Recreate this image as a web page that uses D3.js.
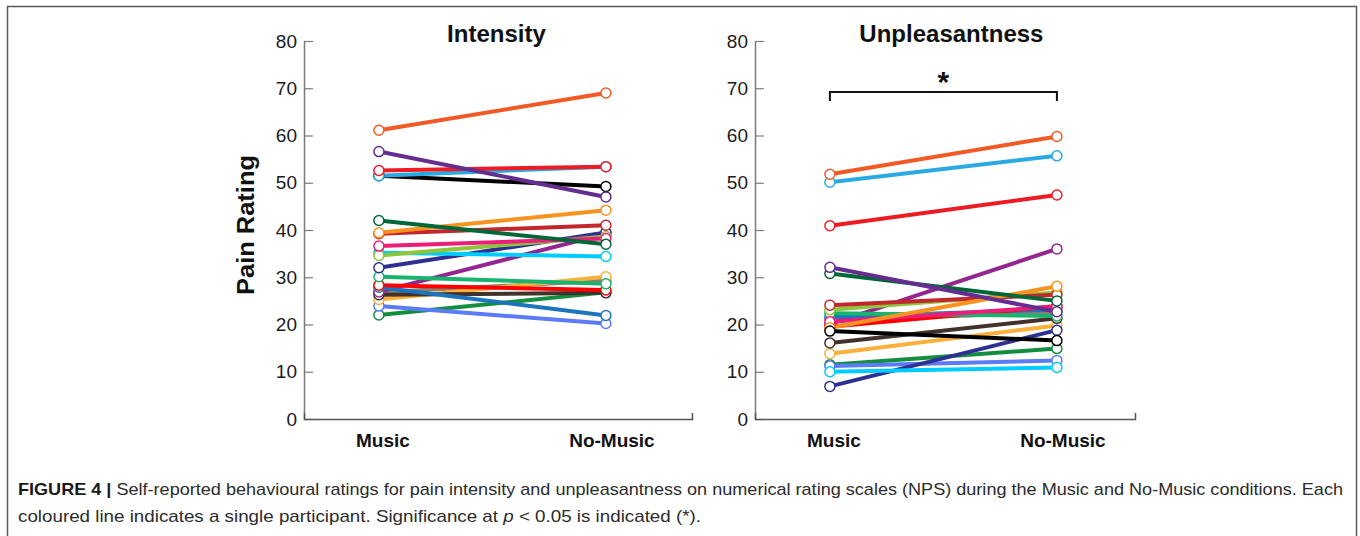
<!DOCTYPE html>
<html>
<head>
<meta charset="utf-8">
<script src="https://cdn.jsdelivr.net/npm/d3@7"></script>
<style>
  html, body { margin: 0; padding: 0; background: #fff; }
  svg { display: block; }
  text { font-family: "Liberation Sans", Arial, Helvetica, sans-serif; }
</style>
</head>
<body>
<svg id="chart" width="1360" height="536"></svg>
<script>
// ---------------- DATA ----------------
const conditions = ["Music", "No-Music"];
const yTicks = [0, 10, 20, 30, 40, 50, 60, 70, 80];
const panelTitles = ["Intensity", "Unpleasantness"];
const yLabel = "Pain Rating";

// one colour per participant
const participantColors = [
  "#f15a24", "#662d91", "#ed1c24", "#29abe2", "#000000",
  "#006837", "#f7931e", "#c1272d", "#ed1e79", "#8cc63f",
  "#00ccff", "#2e3192", "#1bb46e", "#ff0000", "#1c75bc",
  "#93278f", "#42322b", "#fbb03b", "#5b7bf7", "#138e3e",
  "#8c7f72"
];

const intensityMusic   = [61.1, 56.6, 52.6, 51.5, 51.5, 42.0, 39.4, 39.2, 36.6, 34.6, 35.2, 32.0, 30.1, 28.3, 27.9, 26.9, 26.3, 25.3, 23.9, 22.0, 26.8];
const intensityNoMusic = [69.0, 47.0, 53.4, 53.4, 49.2, 37.0, 44.2, 41.0, 38.2, 38.6, 34.4, 39.5, 28.6, 27.3, 21.9, 39.2, 26.7, 30.1, 20.2, 26.8, 29.3];

const unpleasMusic     = [51.8, 32.1, 40.9, 50.1, 18.6, 30.8, 19.3, 24.1, 20.6, 23.1, 10.0, 6.9, 22.4, 19.5, 21.6, 20.1, 16.1, 13.8, 11.2, 11.5, 21.0];
const unpleasNoMusic   = [59.8, 22.7, 47.4, 55.7, 16.6, 25.0, 28.1, 26.3, 23.8, 26.8, 10.9, 18.8, 21.8, 23.9, 23.2, 36.0, 21.3, 19.8, 12.4, 14.9, 22.5];

// significance annotation on the Unpleasantness panel (rating level of bracket)
const sigLevel = 69.2;
const sigDrop = 1.9;
const sigMark = "*";

const captionBold = "FIGURE 4 | ";
const captionLine1 = "Self-reported behavioural ratings for pain intensity and unpleasantness on numerical rating scales (NPS) during the Music and No-Music conditions. Each";
const captionLine2a = "coloured line indicates a single participant. Significance at ";
const captionLine2p = "p";
const captionLine2b = " < 0.05 is indicated (*).";

// ---------------- DRAW ----------------
const svg = d3.select("#chart");

// outer figure frame (open at bottom)
svg.append("path")
  .attr("d", "M7.5,540 V6.5 H1356.5 V540")
  .attr("fill", "none")
  .attr("stroke", "#5a5a5a")
  .attr("stroke-width", 1.5);

const y = d3.scaleLinear().domain([0, 80]).range([419, 41]);

const panels = [
  { title: panelTitles[0], music: intensityMusic, noMusic: intensityNoMusic, x0: 304, x1: 692, sig: false },
  { title: panelTitles[1], music: unpleasMusic,   noMusic: unpleasNoMusic,   x0: 755, x1: 1135, sig: true }
];

panels.forEach((p, pi) => {
  const g = svg.append("g");
  // ~227px between the two conditions, first condition ~75px from the y axis
  const xs = d3.scaleLinear().domain([-0.33, (p.x1 - p.x0) / 227 - 0.33]).range([p.x0, p.x1]);

  // y axis (ticks pointing inward)
  const yAxis = d3.axisLeft(y).tickValues(yTicks).tickSizeInner(-9).tickSizeOuter(0).tickPadding(7);
  const ya = g.append("g").attr("transform", `translate(${p.x0},0)`).call(yAxis);
  ya.select(".domain").attr("stroke", "#7a7a7a").attr("stroke-width", 1.5);
  ya.selectAll(".tick line").attr("stroke", "#7a7a7a").attr("stroke-width", 1.2);
  ya.selectAll(".tick text")
    .attr("font-family", "'Liberation Sans', Arial, sans-serif")
    .attr("font-size", 19).attr("fill", "#1a1a1a");

  // x axis baseline with upward end tick
  const xAxis = d3.axisBottom(xs).tickValues([]).tickSizeOuter(-6);
  const xa = g.append("g").attr("transform", `translate(0,${y(0)})`).call(xAxis);
  xa.select(".domain").attr("stroke", "#555").attr("stroke-width", 1.5);

  // category labels
  conditions.forEach((c, i) => {
    g.append("text")
      .attr("x", xs(i) + (i === 0 ? 4 : 6))
      .attr("y", 447)
      .attr("text-anchor", "middle")
      .attr("font-weight", "bold")
      .attr("font-size", 19)
      .attr("fill", "#111")
      .text(c);
  });

  // title
  g.append("text")
    .attr("x", (xs(0) + xs(1)) / 2 + (pi === 0 ? 4 : 8))
    .attr("y", 42)
    .attr("text-anchor", "middle")
    .attr("font-weight", "bold")
    .attr("font-size", 24)
    .attr("fill", "#111")
    .text(p.title);

  // participant lines
  const pairs = p.music.map((m, i) => ({ m, n: p.noMusic[i], c: participantColors[i] }));
  const order = pairs.slice().reverse();
  g.selectAll("line.part").data(order).enter().append("line")
    .attr("class", "part")
    .attr("x1", xs(0)).attr("x2", xs(1))
    .attr("y1", d => y(d.m)).attr("y2", d => y(d.n))
    .attr("stroke", d => d.c)
    .attr("stroke-width", 4)
    .attr("stroke-linecap", "round");

  order.forEach(d => {
    [[0, d.m], [1, d.n]].forEach(([ci, v]) => {
      g.append("circle")
        .attr("cx", xs(ci)).attr("cy", y(v))
        .attr("r", 5)
        .attr("fill", "#fff")
        .attr("stroke", d.c)
        .attr("stroke-width", 1.5);
    });
  });

  if (p.sig) {
    const yb = y(sigLevel), yd = y(sigLevel - sigDrop);
    g.append("path")
      .attr("d", `M${xs(0)},${yd} V${yb} H${xs(1)} V${yd}`)
      .attr("fill", "none")
      .attr("stroke", "#111")
      .attr("stroke-width", 2);
    g.append("text")
      .attr("x", (xs(0) + xs(1)) / 2)
      .attr("y", yb - 0.5)
      .attr("text-anchor", "middle")
      .attr("font-weight", "bold")
      .attr("font-size", 30)
      .attr("fill", "#111")
      .text(sigMark);
  }
});

// y label
svg.append("text")
  .attr("transform", "translate(254,225) rotate(-90)")
  .attr("text-anchor", "middle")
  .attr("font-weight", "bold")
  .attr("font-size", 23)
  .attr("fill", "#111")
  .attr("textLength", 140)
  .attr("lengthAdjust", "spacingAndGlyphs")
  .text(yLabel);

// caption
const cap1 = svg.append("text")
  .attr("x", 18).attr("y", 495)
  .attr("font-size", 17)
  .attr("fill", "#2b2b2b")
  .attr("textLength", 1325)
  .attr("lengthAdjust", "spacingAndGlyphs");
cap1.append("tspan").attr("font-weight", "bold").attr("fill", "#1a1a1a").text(captionBold);
cap1.append("tspan").text(captionLine1);

const cap2 = svg.append("text")
  .attr("x", 18).attr("y", 522)
  .attr("font-size", 17)
  .attr("fill", "#2b2b2b")
  .attr("textLength", 683)
  .attr("lengthAdjust", "spacingAndGlyphs");
cap2.append("tspan").text(captionLine2a);
cap2.append("tspan").attr("font-style", "italic").text(captionLine2p);
cap2.append("tspan").text(captionLine2b);
</script>
</body>
</html>
